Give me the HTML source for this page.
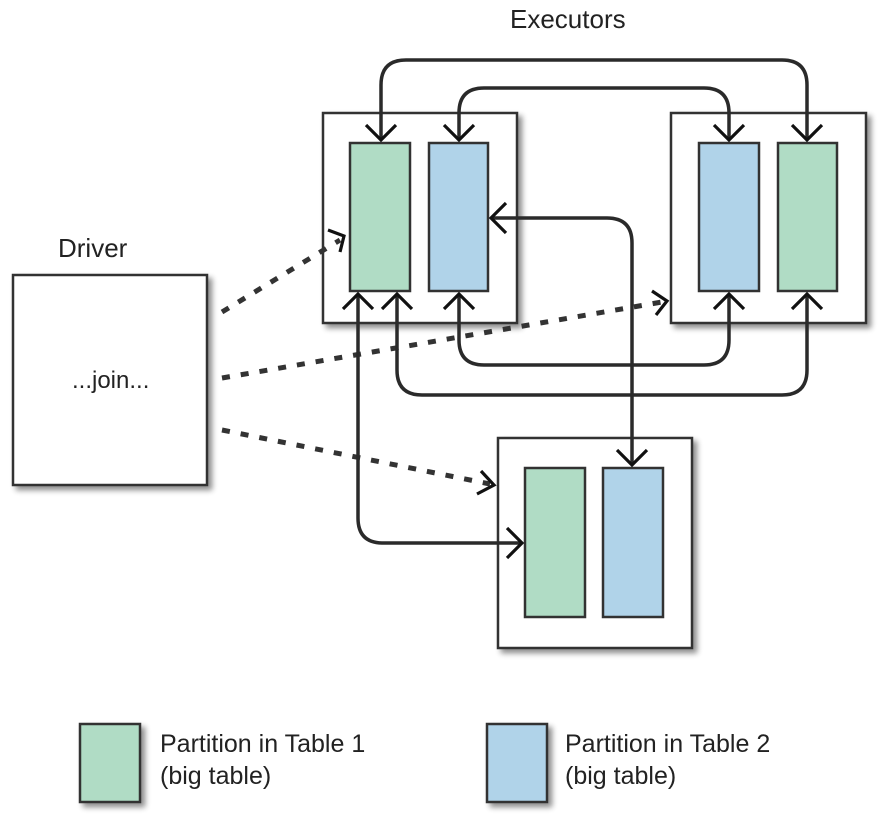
<!DOCTYPE html>
<html><head><style>
html,body{margin:0;padding:0;background:#fff;}
svg{display:block;}
text{font-family:"Liberation Sans",sans-serif;fill:#222;}
</style></head><body>
<svg width="890" height="826" viewBox="0 0 890 826" xmlns="http://www.w3.org/2000/svg">
<defs>
<filter id="sh" x="-20%" y="-20%" width="140%" height="140%">
<feGaussianBlur in="SourceAlpha" stdDeviation="3"/><feOffset dx="4" dy="4"/>
<feComponentTransfer><feFuncA type="linear" slope="0.45"/></feComponentTransfer>
<feMerge><feMergeNode/><feMergeNode in="SourceGraphic"/></feMerge></filter>
</defs>
<g stroke="#333" stroke-width="2.5" filter="url(#sh)">
<rect x="13" y="275" width="194" height="210" fill="#fff"/>
<rect x="323" y="113" width="194" height="210" fill="#fff"/>
<rect x="671" y="113" width="195" height="210" fill="#fff"/>
<rect x="498" y="438" width="194" height="210" fill="#fff"/>
<rect x="350" y="143" width="60" height="148" fill="#b0dcc5"/>
<rect x="429" y="143" width="59" height="148" fill="#b0d3e9"/>
<rect x="699" y="143" width="60" height="148" fill="#b0d3e9"/>
<rect x="778" y="143" width="59" height="148" fill="#b0dcc5"/>
<rect x="525" y="468" width="60" height="149" fill="#b0dcc5"/>
<rect x="603" y="468" width="60" height="149" fill="#b0d3e9"/>
<rect x="80" y="724" width="60" height="78" fill="#b0dcc5"/>
<rect x="487" y="724" width="60" height="78" fill="#b0d3e9"/>
</g>
<g fill="none" stroke="#333" stroke-width="5" stroke-dasharray="8,11">
<path d="M222 312 L340 240"/>
<path d="M222 378 L662 302"/>
<path d="M222 430 L490 484"/>
</g>
<g fill="none" stroke="#2a2a2a" stroke-width="3.5" stroke-linejoin="round">
<path d="M381 140 L381 85 Q381 60 406 60 L782 60 Q807 60 807 85 L807 140"/>
<path d="M459 140 L459 113 Q459 88 484 88 L704 88 Q729 88 729 113 L729 140"/>
<path d="M459 294 L459 340 Q459 365 484 365 L704 365 Q729 365 729 340 L729 294"/>
<path d="M397 294 L397 370 Q397 395 422 395 L782 395 Q807 395 807 370 L807 294"/>
<path d="M491 218 L607 218 Q632 218 632 243 L632 465"/>
<path d="M358 294 L358 518 Q358 543 383 543 L522 543"/>
</g>
<g fill="none" stroke="#111" stroke-width="3.2">
<path d="M366 125 L381 140 L396 125"/><path d="M444 125 L459 140 L474 125"/>
<path d="M714 125 L729 140 L744 125"/><path d="M792 125 L807 140 L822 125"/>
<path d="M444 309 L459 294 L474 309"/><path d="M714 309 L729 294 L744 309"/>
<path d="M382 309 L397 294 L412 309"/><path d="M343 309 L358 294 L373 309"/>
<path d="M792 309 L807 294 L822 309"/>
<path d="M506 203 L491 218 L506 233"/>
<path d="M617 450 L632 465 L647 450"/>
<path d="M507 528 L522 543 L507 558"/>
<path d="M328 230 L344 236 L340 252"/>
<path d="M652 291 L667 301 L656 315"/>
<path d="M481 471 L494 485 L477 494"/>
</g>
<text x="510" y="28" font-size="26">Executors</text>
<text x="58" y="257" font-size="26">Driver</text>
<text x="72" y="388" font-size="24">...join...</text>
<text x="160" y="752" font-size="25">Partition in Table 1</text>
<text x="160" y="784" font-size="25">(big table)</text>
<text x="565" y="752" font-size="25">Partition in Table 2</text>
<text x="565" y="784" font-size="25">(big table)</text>
</svg>
</body></html>
